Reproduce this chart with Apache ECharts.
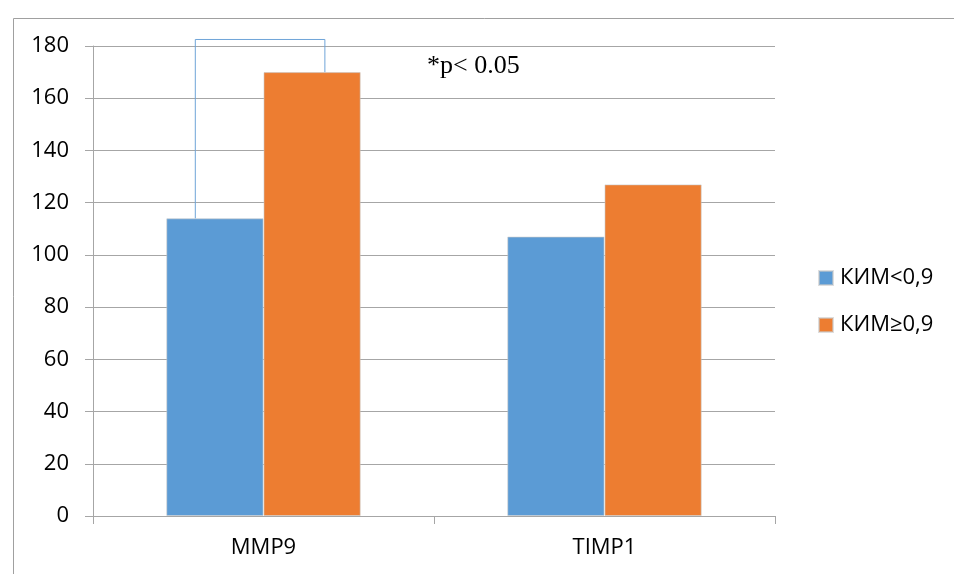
<!DOCTYPE html>
<html>
<head>
<meta charset="utf-8">
<script src="https://cdn.jsdelivr.net/npm/echarts@6/dist/echarts.min.js"></script>
<style>
  html, body { margin: 0; padding: 0; background: #fff; }
  #chart { width: 954px; height: 574px; }
</style>
</head>
<body>
<div id="chart"></div>
<script>
// Marker levels by KIM group
const categories = ['MMP9', 'TIMP1'];
const seriesNames = ['КИМ<0,9', 'КИМ≥0,9'];
const kimLow = [114, 107];
const kimHigh = [170, 127];
const yTicks = { min: 0, max: 180, step: 20 };

// Significance bracket over MMP9: x in category units (0 = MMP9 centre), y in axis units
const bracketX = [-0.2, 0.18];
const bracketTop = 182.5;
const pText = '*p< 0.05';

const FONT = '"Open Sans", sans-serif';
const GRID_COLOR = '#a6a6a6';

const chart = echarts.init(document.getElementById('chart'));

chart.setOption({
  animation: false,
  backgroundColor: '#ffffff',
  grid: { left: 93, right: 179, top: 46, bottom: 58, containLabel: false },
  legend: {
    orient: 'vertical',
    left: 813,
    top: 262,
    itemWidth: 14,
    itemHeight: 14,
    itemGap: 25,
    icon: 'rect',
    data: seriesNames,
    textStyle: { fontFamily: FONT, fontSize: 22, color: '#000', padding: [0, 0, 0, 2] }
  },
  xAxis: [
    {
      type: 'category',
      data: categories,
      axisLine: { show: true, onZero: false, lineStyle: { color: GRID_COLOR, width: 1 } },
      axisTick: { show: true, length: 8, alignWithLabel: false, lineStyle: { color: GRID_COLOR } },
      axisLabel: { margin: 21, fontFamily: FONT, fontSize: 22, color: '#000' },
      splitLine: { show: false }
    },
    {
      // helper axis for placing the bracket between bar positions
      type: 'value',
      min: -0.5,
      max: 1.5,
      show: false,
      position: 'bottom',
      axisLine: { show: false, onZero: false },
      axisTick: { show: false },
      axisLabel: { show: false },
      splitLine: { show: false }
    }
  ],
  yAxis: {
    type: 'value',
    min: yTicks.min,
    max: yTicks.max,
    interval: yTicks.step,
    axisLine: { show: true, onZero: false, lineStyle: { color: GRID_COLOR, width: 1 } },
    axisTick: { show: true, length: 8, lineStyle: { color: GRID_COLOR } },
    axisLabel: { margin: 24, fontFamily: FONT, fontSize: 22, color: '#000' },
    splitLine: { show: true, lineStyle: { color: GRID_COLOR, width: 1 } }
  },
  series: [
    {
      name: seriesNames[0],
      type: 'bar',
      data: kimLow,
      barGap: '0%',
      barCategoryGap: '43%',
      itemStyle: { color: '#5b9bd5', borderColor: 'rgba(200,200,200,0.6)', borderWidth: 1 }
    },
    {
      name: seriesNames[1],
      type: 'bar',
      data: kimHigh,
      barGap: '0%',
      barCategoryGap: '43%',
      itemStyle: { color: '#ed7d31', borderColor: 'rgba(200,200,200,0.6)', borderWidth: 1 }
    },
    {
      name: 'bracket',
      type: 'line',
      xAxisIndex: 1,
      symbol: 'none',
      silent: true,
      clip: false,
      z: 5,
      lineStyle: { color: '#6fa4d8', width: 1 },
      data: [
        [bracketX[0], kimLow[0]],
        [bracketX[0], bracketTop],
        [bracketX[1], bracketTop],
        [bracketX[1], kimHigh[0]]
      ]
    }
  ],
  graphic: [
    {
      type: 'rect',
      left: 11,
      top: 16,
      shape: { width: 1200, height: 800 },
      style: { fill: 'none', stroke: '#a0a0a0', lineWidth: 1 },
      silent: true,
      z: -10
    },
    {
      type: 'text',
      left: 427,
      top: 53,
      style: { text: pText, fontFamily: '"Liberation Serif", "Times New Roman", serif', fontSize: 26, fill: '#000' }
    }
  ]
});
</script>
</body>
</html>
